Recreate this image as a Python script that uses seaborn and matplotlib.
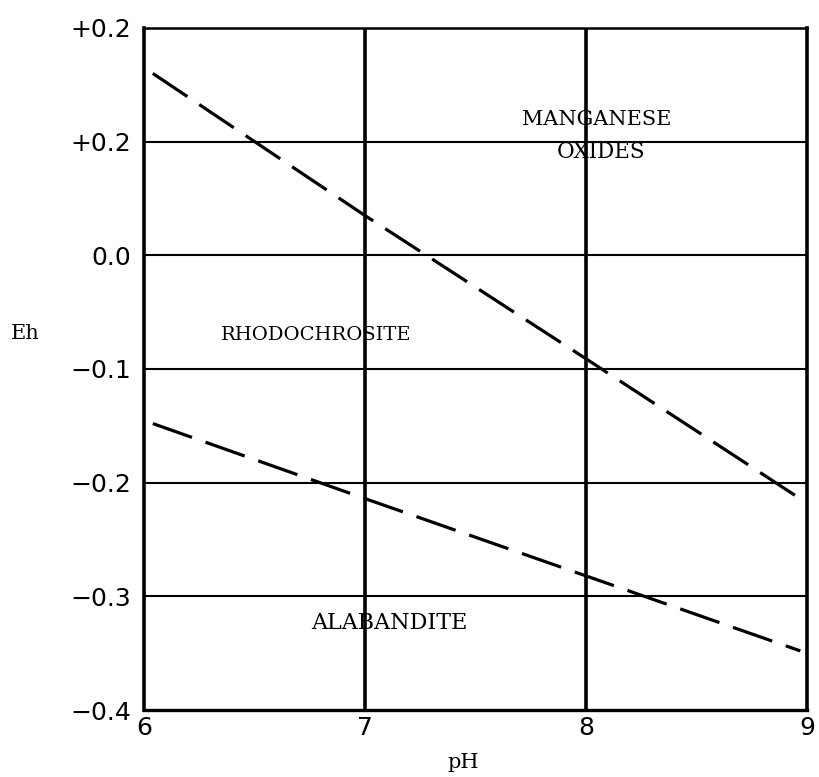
import matplotlib
matplotlib.use("Agg")
import matplotlib.pyplot as plt
import seaborn as sns
import pandas as pd

# Data
ph_upper = [6.04, 7.0, 8.0, 9.0]
eh_upper = [0.160, 0.035, -0.091, -0.218]
ph_lower = [6.04, 7.0, 8.0, 8.97]
eh_lower = [-0.148, -0.214, -0.282, -0.348]

x_ticks = [6, 7, 8, 9]
x_labels = ["6", "7", "8", "9"]
y_ticks = [-0.4, -0.3, -0.2, -0.1, 0.0, 0.1, 0.2]
y_labels = ["\u22120.4", "\u22120.3", "\u22120.2", "\u22120.1", "0.0", "+0.2", "+0.2"]

region_labels = ["MANGANESE", "OXIDES", "RHODOCHROSITE", "ALABANDITE"]
region_x = [8.05, 8.07, 6.78, 7.11]
region_y = [0.1195, 0.0905, -0.0705, -0.3235]

df = pd.DataFrame({
    "pH": ph_upper + ph_lower,
    "Eh": eh_upper + eh_lower,
    "boundary": ["upper"] * len(ph_upper) + ["lower"] * len(ph_lower),
})

sns.set_theme(style="white", rc={"text.color": "black", "xtick.color": "black",
                                  "ytick.color": "black", "axes.labelcolor": "black"})
plt.rcParams["font.family"] = ["DejaVu Sans"]

fig = plt.figure(figsize=(8.19, 7.77), dpi=100)
ax = fig.add_axes([0.1758, 0.0862, 0.8095, 0.8778])

sns.lineplot(data=df, x="pH", y="Eh", hue="boundary", style="boundary",
             palette=["black", "black"], dashes=[(13, 4.5), (13, 4.5)],
             linewidth=2.3, legend=False, ax=ax, estimator=None, sort=False)

ax.set_xlim(6, 9)
ax.set_ylim(-0.4, 0.2)

# grid lines
for y in y_ticks[1:-1]:
    ax.axhline(y, color="black", lw=1.5, zorder=1)
for x in [7, 8]:
    ax.axvline(x, color="black", lw=2.6, zorder=1)

for side, lw in [("left", 2.6), ("bottom", 2.4), ("top", 1.8), ("right", 2.6)]:
    ax.spines[side].set_visible(True)
    ax.spines[side].set_color("black")
    ax.spines[side].set_linewidth(lw)

ax.set_xticks(x_ticks)
ax.set_xticklabels(x_labels, fontsize=18)
ax.set_yticks(y_ticks)
ax.set_yticklabels(y_labels, fontsize=18)
ax.tick_params(axis="both", length=0)
ax.tick_params(axis="y", pad=9)
ax.tick_params(axis="x", pad=4)
ax.grid(False)

serif = "DejaVu Serif"
ax.set_xlabel("")
ax.set_ylabel("")
fig.text(463 / 819, 1 - 763 / 777, "pH", family=serif, fontsize=15,
         ha="center", va="center", color="black")
fig.text(25 / 819, 1 - 334 / 777, "Eh", family=serif, fontsize=15,
         ha="center", va="center", color="black")

sizes = [15, 15.5, 14, 16]
for lab, x, y, s in zip(region_labels, region_x, region_y, sizes):
    ax.text(x, y, lab, family=serif, fontsize=s, ha="center", va="center",
            color="black", zorder=5)

fig.savefig("out.png", dpi=100)
